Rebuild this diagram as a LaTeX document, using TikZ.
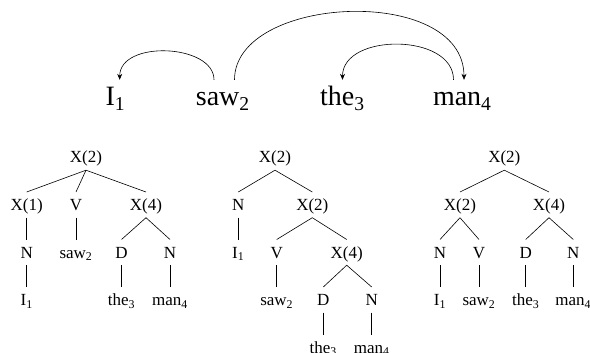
\documentclass[tikz,border=0pt]{standalone}
\usepackage{fontspec}
\setmainfont{Liberation Serif}
\usetikzlibrary{arrows.meta}
\begin{document}
\begin{tikzpicture}[x=1pt,y=-1pt,
  word/.style={font=\fontsize{28}{32}\selectfont, inner sep=0pt, text height=26pt, text depth=0pt, anchor=base west},
  tn/.style={font=\fontsize{17}{20}\selectfont, inner xsep=0pt, inner ysep=7pt, text height=11.3pt, text depth=0pt, anchor=base},
  arc/.style={line width=0.6pt, -{Stealth[length=6pt,width=5pt,inset=2pt]}},
  edge/.style={line width=0.6pt}]
\useasboundingbox (0,0) rectangle (590,353);
% top sentence
\node[word] (w1) at (105.4,106) {I\textsubscript{1}};
\node[word] (w2) at (195.7,106) {saw\textsubscript{2}};
\node[word] (w3) at (320,106) {the\textsubscript{3}};
\node[word] (w4) at (432.8,106) {man\textsubscript{4}};
\draw[arc] ([xshift=18.3pt]w2.north west) .. controls +(0,-36) and +(0,-40) .. ([xshift=14.3pt]w1.north west);
\draw[arc] ([xshift=38.8pt]w2.north west) .. controls +(0,-85) and +(0,-96) .. ([xshift=31.2pt]w4.north west);
\draw[arc] ([xshift=20.7pt]w4.north west) .. controls +(0,-47) and +(0,-47) .. ([xshift=22.5pt]w3.north west);
% tree 1
\node[tn] (a0) at (86,163) {X(2)};
\node[tn] (a1) at (26.7,210.5) {X(1)};
\node[tn] (a2) at (76,210.5) {V};
\node[tn] (a3) at (146,210.5) {X(4)};
\node[tn] (a4) at (26.7,258) {N};
\node[tn] (a5) at (76,258) {saw\textsubscript{2}};
\node[tn] (a6) at (121.5,258) {D};
\node[tn] (a7) at (170,258) {N};
\node[tn] (a8) at (26.7,305.5) {I\textsubscript{1}};
\node[tn] (a9) at (121.5,305.5) {the\textsubscript{3}};
\node[tn] (a10) at (170,305.5) {man\textsubscript{4}};
\draw[edge] (a0.south) -- (a1.north);
\draw[edge] (a0.south) -- (a2.north);
\draw[edge] (a0.south) -- (a3.north);
\draw[edge] (a1.south) -- (a4.north);
\draw[edge] (a2.south) -- (a5.north);
\draw[edge] (a3.south) -- (a6.north);
\draw[edge] (a3.south) -- (a7.north);
\draw[edge] (a4.south) -- (a8.north);
\draw[edge] (a6.south) -- (a9.north);
\draw[edge] (a7.south) -- (a10.north);
% tree 2
\node[tn] (b0) at (275,163) {X(2)};
\node[tn] (b1) at (238.3,210.5) {N};
\node[tn] (b2) at (312.3,210.5) {X(2)};
\node[tn] (b3) at (238.3,258) {I\textsubscript{1}};
\node[tn] (b4) at (276.7,258) {V};
\node[tn] (b5) at (346.7,258) {X(4)};
\node[tn] (b6) at (276.7,305.5) {saw\textsubscript{2}};
\node[tn] (b7) at (323.3,305.5) {D};
\node[tn] (b8) at (371.7,305.5) {N};
\node[tn] (b9) at (323.3,353) {the\textsubscript{3}};
\node[tn] (b10) at (371.7,353) {man\textsubscript{4}};
\draw[edge] (b0.south) -- (b1.north);
\draw[edge] (b0.south) -- (b2.north);
\draw[edge] (b1.south) -- (b3.north);
\draw[edge] (b2.south) -- (b4.north);
\draw[edge] (b2.south) -- (b5.north);
\draw[edge] (b4.south) -- (b6.north);
\draw[edge] (b5.south) -- (b7.north);
\draw[edge] (b5.south) -- (b8.north);
\draw[edge] (b7.south) -- (b9.north);
\draw[edge] (b8.south) -- (b10.north);
% tree 3
\node[tn] (c0) at (504.3,163) {X(2)};
\node[tn] (c1) at (460,210.5) {X(2)};
\node[tn] (c2) at (549,210.5) {X(4)};
\node[tn] (c3) at (440,258) {N};
\node[tn] (c4) at (479,258) {V};
\node[tn] (c5) at (525.7,258) {D};
\node[tn] (c6) at (573.3,258) {N};
\node[tn] (c7) at (440,305.5) {I\textsubscript{1}};
\node[tn] (c8) at (479,305.5) {saw\textsubscript{2}};
\node[tn] (c9) at (525.7,305.5) {the\textsubscript{3}};
\node[tn] (c10) at (573.3,305.5) {man\textsubscript{4}};
\draw[edge] (c0.south) -- (c1.north);
\draw[edge] (c0.south) -- (c2.north);
\draw[edge] (c1.south) -- (c3.north);
\draw[edge] (c1.south) -- (c4.north);
\draw[edge] (c2.south) -- (c5.north);
\draw[edge] (c2.south) -- (c6.north);
\draw[edge] (c3.south) -- (c7.north);
\draw[edge] (c4.south) -- (c8.north);
\draw[edge] (c5.south) -- (c9.north);
\draw[edge] (c6.south) -- (c10.north);
\end{tikzpicture}
\end{document}
